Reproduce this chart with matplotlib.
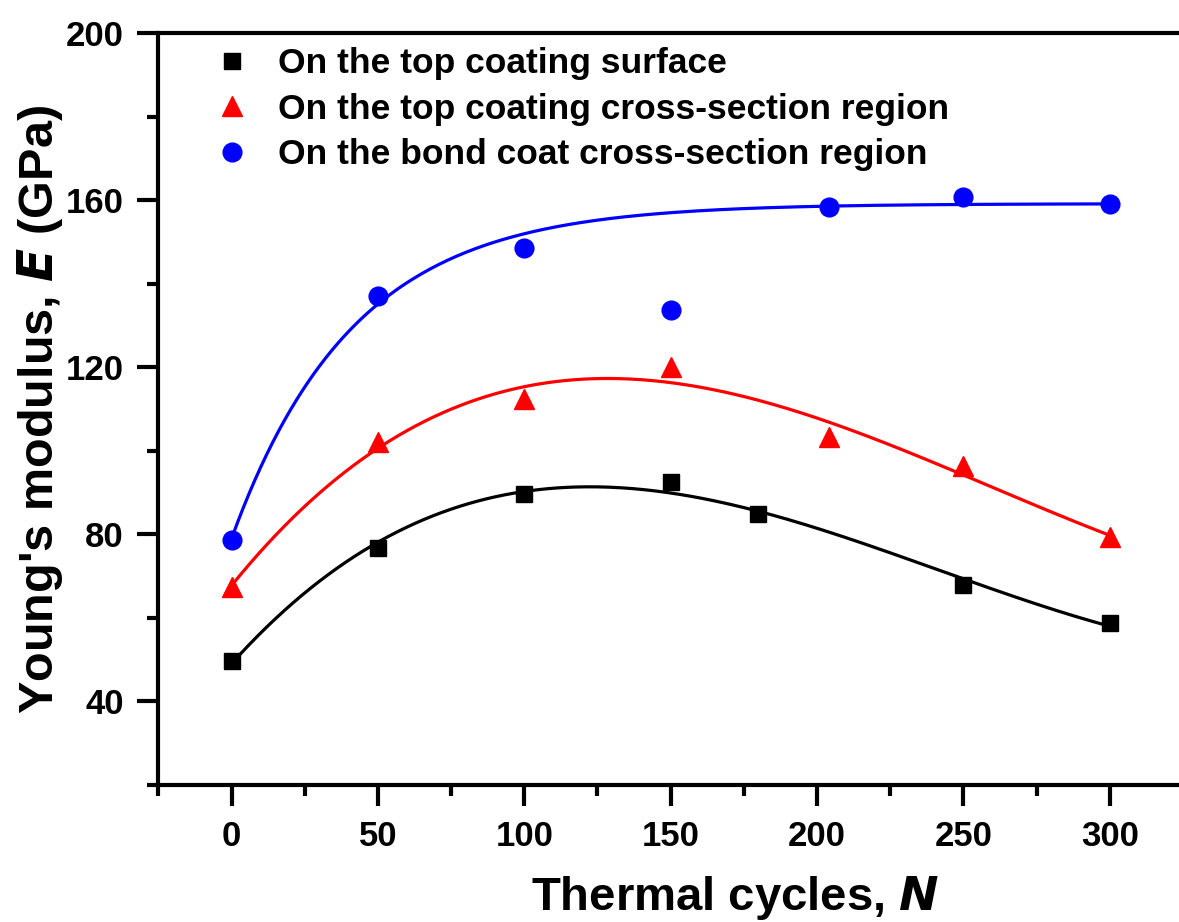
import numpy as np
import matplotlib
matplotlib.use("Agg")
from matplotlib import pyplot as plt
from matplotlib.ticker import MultipleLocator

plt.rcParams['font.family'] = ['Liberation Sans', 'DejaVu Sans']
plt.rcParams['font.weight'] = 'bold'

# data
x_top = [0, 50, 100, 150, 180, 250, 300]
E_top = [49.7, 76.8, 89.7, 92.6, 84.9, 67.9, 58.7]

x_cross = [0, 50, 100, 150, 204, 250, 300]
E_cross = [67.4, 102.1, 112.4, 120.1, 103.3, 96.4, 79.3]

x_bond = [0, 50, 100, 150, 204, 250, 300]
E_bond = [78.7, 137.1, 148.6, 133.7, 158.5, 160.9, 159.1]
bond_outlier = 150  # left out of the bond coat fit

labels = ["On the top coating surface",
          "On the top coating cross-section region",
          "On the bond coat cross-section region"]

#fitted curves: cubic for top coat, exp saturation for bond coat
xs = np.linspace(0, 300, 301)
fit_top = np.polyval(np.polyfit(x_top, E_top, 3), xs)
fit_cross = np.polyval(np.polyfit(x_cross, E_cross, 3), xs)

def expfit(x, y):
    x = np.array(x, float); y = np.array(y, float)
    best = None
    for t in np.linspace(5, 200, 1000):
        A = np.column_stack([np.ones_like(x), np.exp(-x/t)])
        c, res, _, _ = np.linalg.lstsq(A, y, rcond=None)
        err = np.sum((A @ c - y)**2)
        if best is None or err < best[0]:
            best = (err, t, c)
    _, t, c = best
    return lambda z: c[0] + c[1]*np.exp(-z/t)

keep = np.array(x_bond) != bond_outlier
fit_bond = expfit(np.array(x_bond)[keep], np.array(E_bond)[keep])(xs)

fig = plt.figure(figsize=(11.79, 9.22), dpi=100)
ax = fig.add_axes([0.1343, 0.1486, 0.869, 0.8153])

ax.plot(xs, fit_top, color="black", lw=2.3)
ax.plot(xs, fit_cross, color="red", lw=2.3)
ax.plot(xs, fit_bond, color="blue", lw=2.3)

ax.plot(x_top, E_top, "s", color="black", ms=12, ls="none", label=labels[0])
ax.plot(x_cross, E_cross, "^", color="red", ms=15, ls="none", label=labels[1])
ax.plot(x_bond, E_bond, "o", color="blue", ms=13.5, ls="none", label=labels[2])

ax.set_xlim(-25, 325)
ax.set_ylim(20, 200)
ax.xaxis.set_major_locator(MultipleLocator(50))
ax.xaxis.set_minor_locator(MultipleLocator(25))
ax.yaxis.set_major_locator(MultipleLocator(40))
ax.yaxis.set_minor_locator(MultipleLocator(20))
ax.set_xticks(range(0, 301, 50))
ax.set_yticks(range(40, 201, 40))

for s in ax.spines.values():
    s.set_linewidth(3)
ax.spines['right'].set_visible(False)
ax.tick_params(which="major", length=15, width=3, direction="out", labelsize=25, pad=10)
ax.tick_params(which="minor", length=8, width=3, direction="out")
ax.tick_params(top=False, right=False, which="both")

ax.set_xlabel("Thermal cycles, $\\bf{\\it{N}}$", fontsize=34, fontweight="bold")
ax.set_ylabel("Young's modulus, $\\bf{\\it{E}}$ (GPa)", fontsize=35, fontweight="bold")
ax.xaxis.set_label_coords(0.563, -0.118)
ax.yaxis.set_label_coords(-0.091, 0.5)

ax.legend(loc="upper left", bbox_to_anchor=(0.0446, 1.0), frameon=False, fontsize=25.5,
          handlelength=0.8, handletextpad=0.88, labelspacing=0.35, borderaxespad=0)

fig.savefig("out.png", dpi=100)
